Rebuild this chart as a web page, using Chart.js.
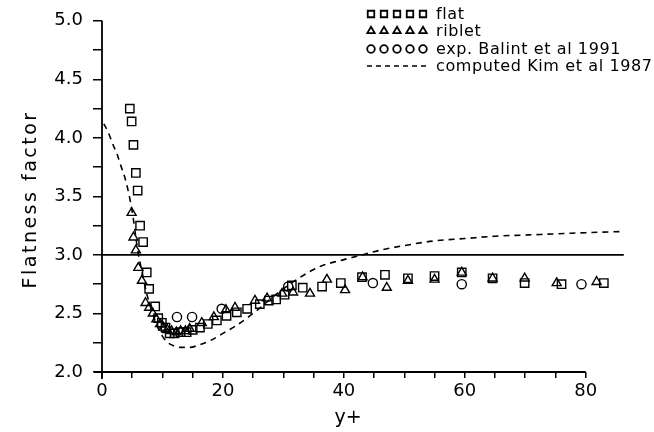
<!DOCTYPE html>
<html lang="en">
<head>
<meta charset="UTF-8">
<title>Flatness factor</title>
<script src="https://cdn.jsdelivr.net/npm/chart.js"></script>
<style>
  html, body { margin: 0; padding: 0; background: #fff; }
  #wrap { width: 654px; height: 432px; }
</style>
</head>
<body>
<div id="wrap"><canvas id="flatnessChart" width="654" height="432"></canvas></div>
<script>
// flat plate (squares)
const flatX = [4.6, 4.9, 5.2, 5.6, 5.9, 6.3, 6.8, 7.4, 7.8, 8.8, 9.3, 9.9, 10.5, 11.2, 12.0, 13.0, 14.0, 15.0,
  16.2, 17.5, 19.0, 20.6, 22.3, 24.0, 26.1, 27.6, 28.8, 30.2, 31.4, 33.2, 36.4, 39.5, 43.0, 46.8, 50.6,
  55.0, 59.5, 64.6, 69.9, 76.0, 83.0];
const flatY = [4.25, 4.14, 3.94, 3.70, 3.55, 3.25, 3.11, 2.85, 2.71, 2.56, 2.46, 2.42, 2.38, 2.33, 2.33, 2.34, 2.34, 2.36,
  2.38, 2.41, 2.44, 2.48, 2.51, 2.54, 2.58, 2.61, 2.62, 2.66, 2.74, 2.72, 2.73, 2.76, 2.81, 2.83, 2.80,
  2.82, 2.85, 2.80, 2.76, 2.75, 2.76];

// riblet surface (triangles)
const ribletX = [4.9, 5.2, 5.6, 6.0, 6.6, 7.2, 7.8, 8.4, 9.0, 9.6, 10.2, 10.8, 11.5, 12.3, 13.0, 13.8, 14.5,
  16.5, 18.5, 20.5, 22.0, 25.3, 27.3, 29.8, 31.6, 34.4, 37.2, 40.2, 43.1, 47.1, 50.6, 55.0, 59.5, 64.6,
  69.9, 75.2, 81.8];
const ribletY = [3.36, 3.15, 3.04, 2.89, 2.78, 2.59, 2.55, 2.50, 2.45, 2.41, 2.38, 2.36, 2.35, 2.34, 2.35, 2.35, 2.37,
  2.42, 2.47, 2.53, 2.55, 2.61, 2.63, 2.67, 2.68, 2.67, 2.79, 2.70, 2.81, 2.72, 2.78, 2.79, 2.85, 2.80,
  2.80, 2.76, 2.77];

// Balint et al 1991 (circles)
const balintX = [12.4, 14.9, 19.8, 30.8, 44.8, 59.5, 79.3];
const balintY = [2.47, 2.47, 2.54, 2.73, 2.76, 2.75, 2.75];

// Kim et al 1987 DNS profile (dashed)
const kimX = [0.3, 1, 2, 2.5, 3, 4, 5, 5.8, 6.5, 7.5, 8.5, 9.5, 10.7, 12, 13, 14.5, 16, 18, 20, 22, 25, 28, 30,
  32.5, 36, 40, 43, 46, 50, 55, 60, 65, 70, 75, 80, 86.1];
const kimY = [4.12, 4.05, 3.92, 3.86, 3.78, 3.62, 3.37, 3.08, 2.88, 2.65, 2.48, 2.35, 2.26, 2.22, 2.21, 2.21, 2.23,
  2.27, 2.33, 2.39, 2.50, 2.63, 2.71, 2.80, 2.90, 2.96, 3.00, 3.04, 3.08, 3.12, 3.14, 3.16, 3.17, 3.18,
  3.19, 3.20];

// Gaussian reference level
const refX = [0, 86.3];
const refY = [3, 3];

const legendRows = ['flat', 'riblet', 'exp. Balint et al 1991', 'computed Kim et al 1987'];

const xTicksMax = 80;
const FONT = 'DejaVu Sans';

function pts(xs, ys) {
  return xs.map((x, i) => ({ x: x, y: ys[i] }));
}

const markerBase = {
  showLine: false,
  borderColor: '#000',
  backgroundColor: 'rgba(0,0,0,0)',
  pointBorderWidth: 1.4,
  pointHoverRadius: 0
};

const SQ_R = 5.9, TRI_R = 5.2, CIR_R = 4.6;

// axis lines, x title and legend block
const decorations = {
  id: 'decorations',
  afterDraw(chart) {
    const { ctx, chartArea, scales } = chart;
    const x = scales.x, y = scales.y;
    ctx.save();
    ctx.strokeStyle = '#000';
    ctx.lineWidth = 1.8;
    ctx.beginPath();
    ctx.moveTo(x.getPixelForValue(0) - 8, chartArea.bottom);
    ctx.lineTo(x.getPixelForValue(xTicksMax), chartArea.bottom);
    ctx.moveTo(chartArea.left, y.getPixelForValue(5));
    ctx.lineTo(chartArea.left, chartArea.bottom + 7);
    ctx.stroke();

    ctx.fillStyle = '#000';
    ctx.font = '19px ' + FONT;
    ctx.textAlign = 'center';
    ctx.textBaseline = 'middle';
    ctx.fillText('y+', x.getPixelForValue(40.7), 418);

    ctx.save();
    ctx.translate(31, (chartArea.top + chartArea.bottom) / 2 + 3);
    ctx.rotate(-Math.PI / 2);
    ctx.letterSpacing = '2.5px';
    ctx.fillText('Flatness factor', 0, 0);
    ctx.restore();

    // legend: five small symbols per row, then the label
    const rowY = [14, 31, 49, 66];
    const symX = [371, 384, 397, 410, 423];
    const styles = [
      { pointStyle: 'rect', radius: 4.6 },
      { pointStyle: 'triangle', radius: 4.3 },
      { pointStyle: 'circle', radius: 3.8 }
    ];
    ctx.fillStyle = 'rgba(0,0,0,0)';
    styles.forEach((s, r) => {
      symX.forEach(sx => {
        Chart.helpers.drawPoint(ctx, { pointStyle: s.pointStyle, radius: s.radius, rotation: 0, borderWidth: 1.3 }, sx, rowY[r]);
      });
    });
    ctx.setLineDash([5, 4]);
    ctx.lineWidth = 1.5;
    ctx.beginPath();
    ctx.moveTo(367, rowY[3]);
    ctx.lineTo(428, rowY[3]);
    ctx.stroke();
    ctx.setLineDash([]);

    ctx.fillStyle = '#000';
    ctx.font = '16px ' + FONT;
    ctx.letterSpacing = '0.6px';
    ctx.textAlign = 'left';
    legendRows.forEach((t, i) => ctx.fillText(t, 436, rowY[i] + 1));
    ctx.restore();
  }
};

new Chart(document.getElementById('flatnessChart'), {
  type: 'scatter',
  data: {
    datasets: [
      {
        label: 'reference',
        data: pts(refX, refY),
        showLine: true,
        borderColor: '#000',
        borderWidth: 1.8,
        pointRadius: 0,
        order: 4
      },
      {
        label: 'computed Kim et al 1987',
        data: pts(kimX, kimY),
        showLine: true,
        borderColor: '#000',
        borderWidth: 1.6,
        borderDash: [6, 5],
        cubicInterpolationMode: 'monotone',
        pointRadius: 0,
        order: 3
      },
      Object.assign({}, markerBase, {
        label: 'flat',
        data: pts(flatX, flatY),
        pointStyle: 'rect',
        pointRadius: SQ_R,
        order: 2
      }),
      Object.assign({}, markerBase, {
        label: 'riblet',
        data: pts(ribletX, ribletY),
        pointStyle: 'triangle',
        pointRadius: TRI_R,
        order: 1
      }),
      Object.assign({}, markerBase, {
        label: 'exp. Balint et al 1991',
        data: pts(balintX, balintY),
        pointStyle: 'circle',
        pointRadius: CIR_R,
        order: 0
      })
    ]
  },
  options: {
    responsive: false,
    animation: false,
    events: [],
    layout: { padding: { top: 18, right: 29, left: 0, bottom: 0 } },
    plugins: {
      legend: { display: false },
      tooltip: { enabled: false }
    },
    scales: {
      x: {
        type: 'linear',
        min: 0,
        max: 86.5,
        afterBuildTicks(scale) {
          scale.ticks = scale.ticks.filter(t => t.value <= xTicksMax && t.value % 5 === 0);
        },
        afterFit(scale) { scale.height = 60; },
        border: { display: false },
        grid: { drawOnChartArea: false, drawTicks: true, tickLength: 6, color: '#000', lineWidth: 1.5 },
        ticks: {
          stepSize: 5,
          autoSkip: false,
          maxRotation: 0,
          padding: 3,
          color: '#000',
          font: { family: FONT, size: 18 },
          callback: v => (v % 20 === 0 ? String(v) : '')
        }
      },
      y: {
        min: 2,
        max: 5,
        afterFit(scale) { scale.width = 102; },
        border: { display: false },
        grid: { drawOnChartArea: false, drawTicks: true, tickLength: 9, color: '#000', lineWidth: 1.5 },
        ticks: {
          stepSize: 0.25,
          autoSkip: false,
          padding: 10,
          color: '#000',
          font: { family: FONT, size: 18 },
          callback: v => (Math.abs(v * 2 - Math.round(v * 2)) < 1e-6 ? v.toFixed(1) : '')
        }
      }
    }
  },
  plugins: [decorations]
});
</script>
</body>
</html>
